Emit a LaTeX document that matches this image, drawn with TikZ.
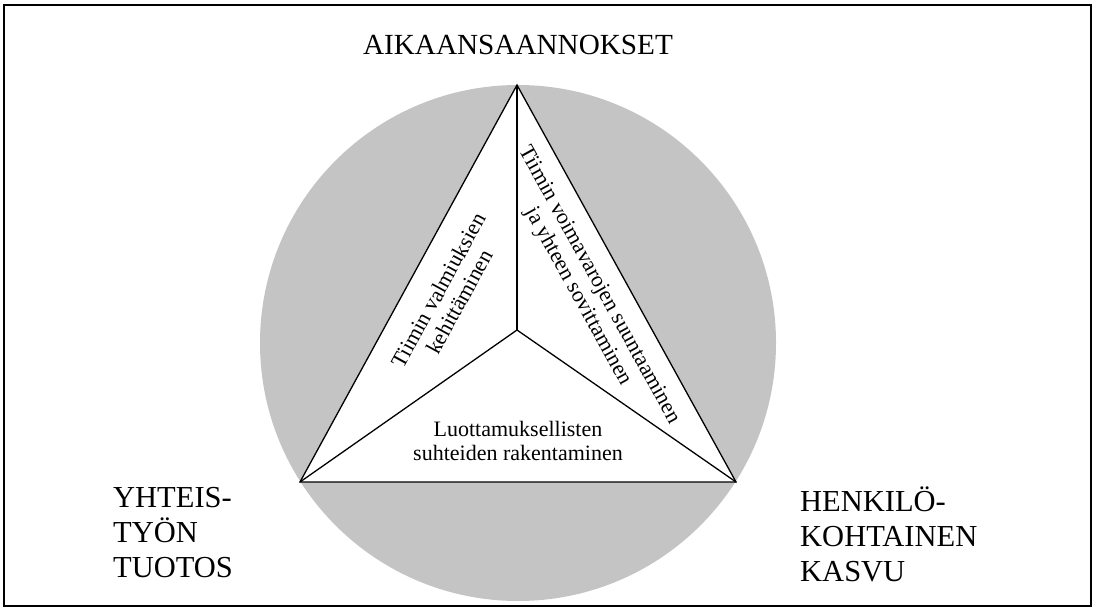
\documentclass[tikz,border=0pt]{standalone}
\usepackage{fontspec}
\setmainfont{Liberation Serif}
\begin{document}
\begin{tikzpicture}[x=1pt,y=-1pt,
  edge/.style={line width=1.3pt, black},
  big/.style={font=\fontsize{30.5}{35}\selectfont, align=left, inner sep=0pt},
  small/.style={font=\fontsize{22}{24}\selectfont, align=center, inner sep=0pt}]
\useasboundingbox (0,0) rectangle (1094,609);
\draw[line width=1.6pt] (4,5) rectangle (1091,606);
\fill[black!23] (518,343) circle[radius=258];
\coordinate (top) at (517,85);
\coordinate (bl) at (300,482);
\coordinate (br) at (736,482);
\coordinate (c) at (517,330);
\fill[white] (top) -- (bl) -- (br) -- cycle;
\draw[edge, line join=miter] (top) -- (bl) -- (br) -- cycle;
\draw[edge] (c) -- (top);
\draw[edge] (c) -- (bl);
\draw[edge] (c) -- (br);
\node[big, font=\fontsize{29.2}{35}\selectfont, anchor=base] (t1) at (518,55) {AIKAANSAANNOKSET};
\node[big, anchor=north west] (t2) at (113,487) {YHTEIS-\\TYÖN\\TUOTOS};
\node[big, anchor=north west] (t3) at (800,487) {HENKILÖ-\\KOHTAINEN\\KASVU};
\node[small] (s1) at (518,441) {Luottamuksellisten\\suhteiden rakentaminen};
\node[small, rotate=61.3] (s2) at (449,296) {Tiimin valmiuksien\\kehittäminen};
\node[small, rotate=-61.1] (s3) at (588,291) {Tiimin voimavarojen suuntaaminen\\ja yhteen sovittaminen};
\end{tikzpicture}
\end{document}
